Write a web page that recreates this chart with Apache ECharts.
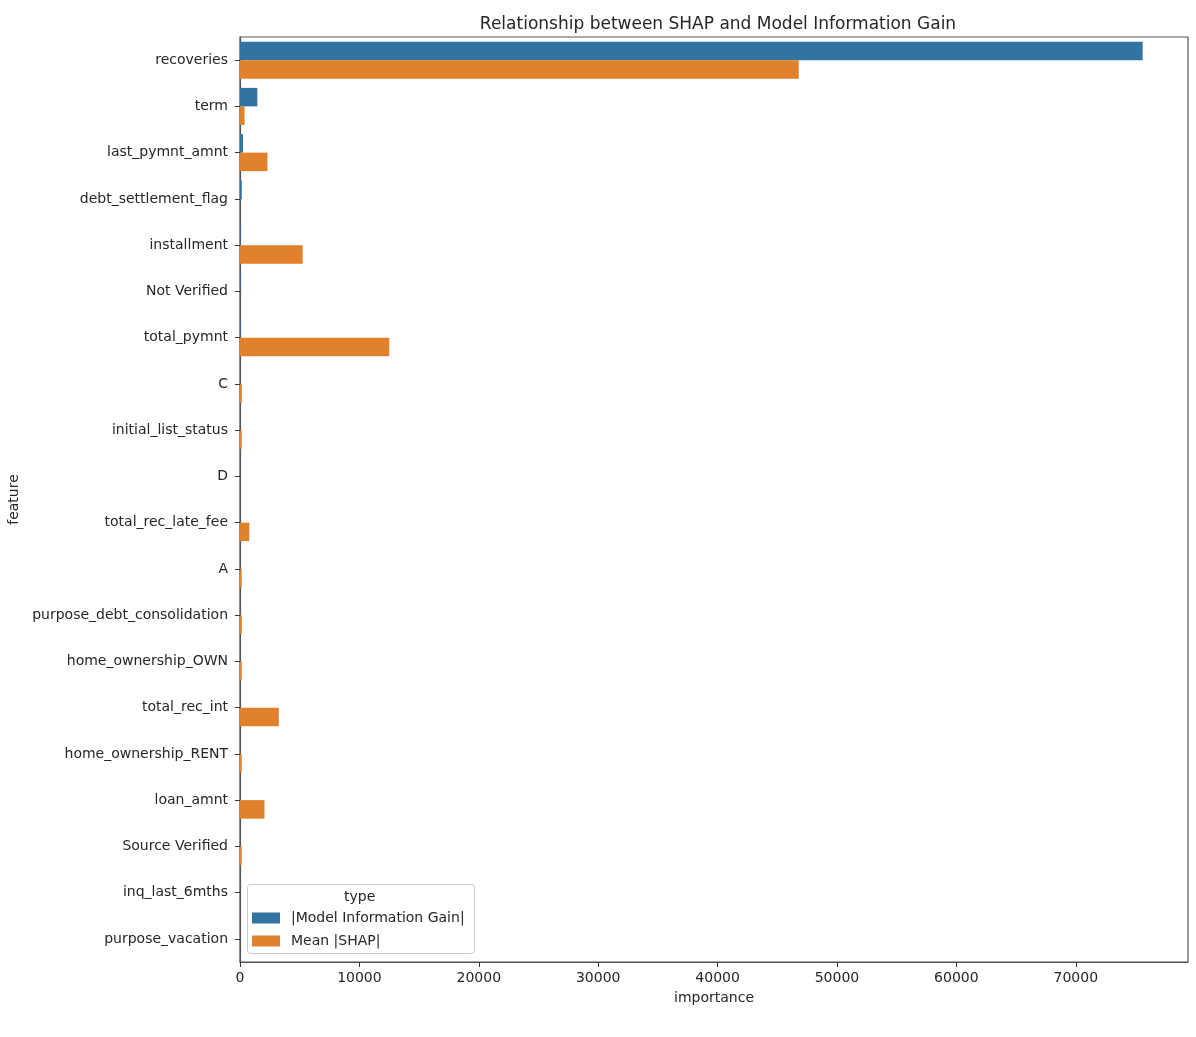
<!DOCTYPE html>
<html>
<head>
<meta charset="utf-8">
<script src="https://cdn.jsdelivr.net/npm/echarts@6/dist/echarts.min.js"></script>
<style>
  html, body { margin: 0; padding: 0; background: #fff; }
  #main { width: 1196px; height: 1037px; }
</style>
</head>
<body>
<div id="main"></div>
<script>
var features = ['recoveries', 'term', 'last_pymnt_amnt', 'debt_settlement_flag', 'installment',
  'Not Verified', 'total_pymnt', 'C', 'initial_list_status', 'D', 'total_rec_late_fee', 'A',
  'purpose_debt_consolidation', 'home_ownership_OWN', 'total_rec_int', 'home_ownership_RENT',
  'loan_amnt', 'Source Verified', 'inq_last_6mths', 'purpose_vacation'];
var infoGain = [75600, 1450, 250, 150, 40, 40, 40, 10, 10, 10, 10, 10, 10, 10, 10, 10, 10, 10, 20, 10];
var meanShap = [46800, 380, 2300, 0, 5250, 0, 12500, 150, 140, 0, 780, 140, 150, 140, 3250, 140, 2050, 140, 0, 0];
var xTicks = [0, 10000, 20000, 30000, 40000, 50000, 60000, 70000];

var chart = echarts.init(document.getElementById('main'));
var font = 'DejaVu Sans';
chart.setOption({
  animation: false,
  textStyle: { fontFamily: font },
  title: {
    text: 'Relationship between SHAP and Model Information Gain',
    left: 713, top: 11, textAlign: 'center',
    textStyle: { fontFamily: font, fontSize: 17, fontWeight: 'normal', color: '#262626' }
  },
  grid: {
    left: 240, right: 8, top: 37, bottom: 75, outerBoundsMode: 'none',
    show: true, borderColor: '#555', borderWidth: 1.2, backgroundColor: '#fff'
  },
  legend: {
    orient: 'vertical', left: 247, top: 906,
    itemWidth: 28, itemHeight: 11, itemGap: 9,
    icon: 'rect',
    textStyle: { fontFamily: font, fontSize: 14, color: '#262626', padding: [0, 0, 0, 6] },
    data: ['|Model Information Gain|', 'Mean |SHAP|']
  },
  graphic: [
    { type: 'rect', left: 247, top: 884, z: 0,
      shape: { width: 227, height: 69, r: 3 },
      style: { fill: 'rgba(255,255,255,0.85)', stroke: '#ccc', lineWidth: 1 } },
    { type: 'text', left: 344, top: 890, z: 10,
      style: { text: 'type', font: '14px DejaVu Sans', fill: '#262626' } }
  ],
  xAxis: {
    type: 'value', min: 0, max: 79400, interval: 10000,
    name: 'importance', nameLocation: 'middle', nameGap: 29,
    nameTextStyle: { fontFamily: font, fontSize: 14, color: '#262626' },
    axisLine: { show: true, lineStyle: { color: '#555', width: 1.2 } },
    axisTick: { show: true, length: 5, lineStyle: { color: '#333' } },
    splitLine: { show: false },
    axisLabel: {
      fontFamily: font, fontSize: 14, color: '#262626', margin: 9, showMaxLabel: false,
      formatter: function (v) { return xTicks.indexOf(v) >= 0 ? String(v) : ''; }
    }
  },
  yAxis: {
    type: 'category', data: features, inverse: true,
    name: 'feature', nameLocation: 'middle', nameGap: 217, nameRotate: 90,
    nameTextStyle: { fontFamily: font, fontSize: 14, color: '#262626' },
    axisLine: { show: true, lineStyle: { color: '#555', width: 1.2 } },
    axisTick: { show: true, alignWithLabel: true, length: 5, lineStyle: { color: '#333' } },
    axisLabel: { fontFamily: font, fontSize: 14, color: '#262626', margin: 12, padding: [10, 0, 0, 0] }
  },
  series: [
    { name: '|Model Information Gain|', type: 'bar', data: infoGain,
      itemStyle: { color: '#3274a1' }, barGap: '0%', barCategoryGap: '20%' },
    { name: 'Mean |SHAP|', type: 'bar', data: meanShap,
      itemStyle: { color: '#e1812c' }, barGap: '0%', barCategoryGap: '20%' }
  ]
});
</script>
</body>
</html>
